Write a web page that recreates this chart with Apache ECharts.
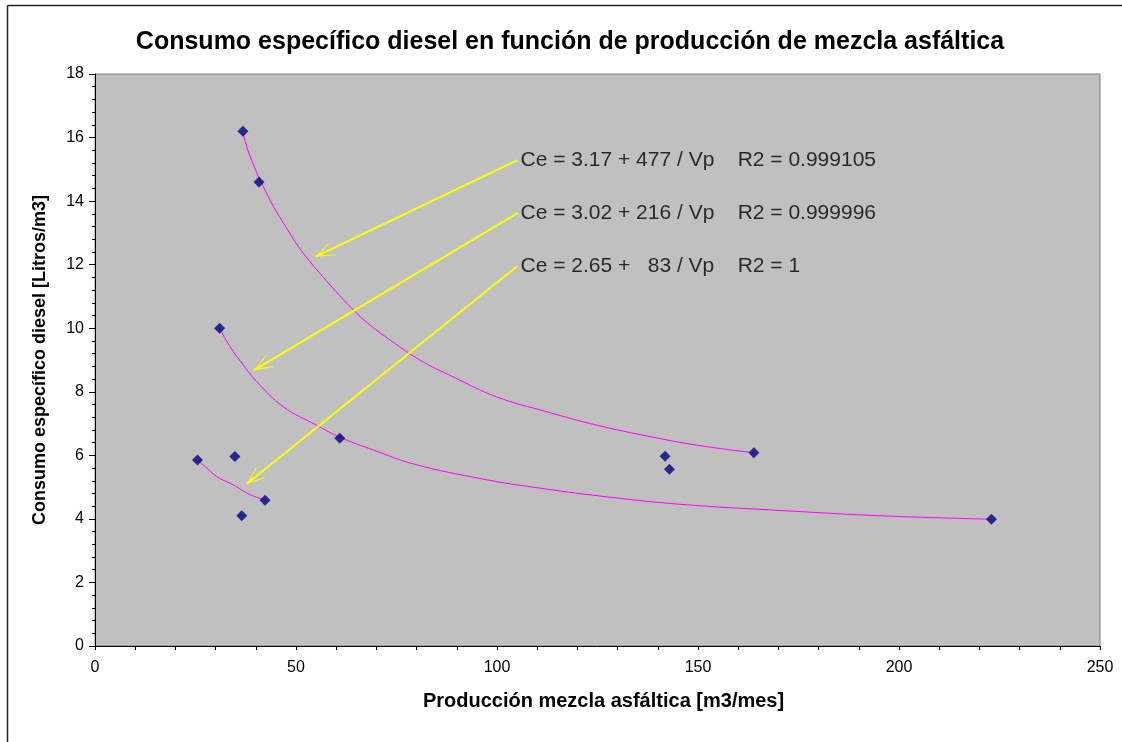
<!DOCTYPE html>
<html>
<head>
<meta charset="utf-8">
<script src="https://cdn.jsdelivr.net/npm/echarts@6/dist/echarts.min.js"></script>
<style>
html,body{margin:0;padding:0;background:#fff;}
#c{width:1122px;height:742px;}
</style>
</head>
<body>
<div id="c"></div>
<script>
// ---- Data ----
const titleText = 'Consumo específico diesel en función de producción de mezcla asfáltica';
const xTitle = 'Producción mezcla asfáltica [m3/mes]';
const yTitle = 'Consumo específico diesel [Litros/m3]';

// measured points (Vp, Ce)
const pointsX = [36.8, 40.8, 31.0, 60.9, 25.5, 34.8, 42.3, 36.5, 163.9, 141.8, 142.9, 223.0];
const pointsY = [16.2, 14.6, 10.0, 6.54, 5.85, 5.96, 4.59, 4.10, 6.08, 5.97, 5.56, 3.99];

// fitted curves
const curve1X = [36.8, 38.6, 43.1, 47.7, 51.8, 58.5, 64.3, 68.4, 73.4, 80.8, 89.1, 99.9, 112.4, 124.8, 138.1, 149.7, 163.9];
const curve1Y = [16.15, 15.4, 14.14, 13.14, 12.36, 11.36, 10.57, 10.1, 9.63, 9.0, 8.47, 7.84, 7.37, 6.95, 6.59, 6.32, 6.08];
const curve2X = [31.0, 33.6, 36.9, 40.2, 46.8, 55.1, 60.9, 69.2, 79.2, 96.6, 110.0, 125.6, 145.5, 171.2, 196.9, 223.0];
const curve2Y = [10.0, 9.42, 8.84, 8.32, 7.53, 6.95, 6.57, 6.17, 5.73, 5.25, 4.98, 4.72, 4.46, 4.26, 4.09, 3.99];
const curve3X = [25.5, 26.9, 30.3, 34.4, 37.7, 40.2, 42.3];
const curve3Y = [5.85, 5.70, 5.33, 5.07, 4.82, 4.68, 4.61];

// equation annotations: text anchor (arrow start) and arrow tip
const eqTexts = [
  'Ce = 3.17 + 477 / Vp    R2 = 0.999105',
  'Ce = 3.02 + 216 / Vp    R2 = 0.999996',
  'Ce = 2.65 +   83 / Vp    R2 = 1'
];
const eqStartX = [105.1, 105.1, 105.1];
const eqStartY = [15.29, 13.62, 11.96];
const eqTipX = [54.9, 39.6, 37.7];
const eqTipY = [12.25, 8.68, 5.10];

// ---- Build options ----
const zip = (a, b) => a.map((v, i) => [v, b[i]]);
const FONT = "'Liberation Sans', Arial, sans-serif";
// open chevron; an invisible point before the tip puts the tip at the symbol centre
const chevron = 'path://M5,-14L5.001,-14L5,-13.999Z M5,0L10,14L9.3,14L5,2.2L0.7,14L0,14Z';

const curveStyle = {
  type: 'line', smooth: 0.4, showSymbol: false, symbol: 'none',
  lineStyle: { color: '#FF00FF', width: 1 }, silent: true, z: 2
};

const chart = echarts.init(document.getElementById('c'), null, { renderer: 'canvas' });
chart.setOption({
  animation: false,
  backgroundColor: '#ffffff',
  title: {
    text: titleText,
    left: 565, top: 25, textAlign: 'center',
    textStyle: { fontFamily: FONT, fontSize: 25, fontWeight: 'bold', color: '#000' }
  },
  grid: {
    left: 95, top: 74, right: 22, bottom: 96,
    show: true, backgroundColor: '#C0C0C0', borderColor: '#808080', borderWidth: 1
  },
  xAxis: {
    type: 'value', min: 0, max: 250, interval: 50,
    name: xTitle, nameLocation: 'middle', nameGap: 45,
    nameTextStyle: { fontFamily: FONT, fontSize: 20, fontWeight: 'bold', color: '#000', padding: [0, 0, 0, 12] },
    axisLine: { show: true, onZero: false, lineStyle: { color: '#000', width: 1 } },
    axisTick: { show: true, length: 4, lineStyle: { color: '#000' } },
    minorTick: { show: true, splitNumber: 5, length: 4, lineStyle: { color: '#000' } },
    axisLabel: { fontFamily: FONT, fontSize: 16, color: '#000', margin: 14 },
    splitLine: { show: false }, minorSplitLine: { show: false }
  },
  yAxis: {
    type: 'value', min: 0, max: 18, interval: 2,
    name: yTitle, nameLocation: 'middle', nameGap: 46, nameRotate: 90,
    nameTextStyle: { fontFamily: FONT, fontSize: 18, fontWeight: 'bold', color: '#000' },
    axisLine: { show: true, onZero: false, lineStyle: { color: '#000', width: 1 } },
    axisTick: { show: true, length: 6, lineStyle: { color: '#000' } },
    minorTick: { show: true, splitNumber: 5, length: 3, lineStyle: { color: '#000' } },
    axisLabel: { fontFamily: FONT, fontSize: 16, color: '#000', margin: 11 },
    splitLine: { show: false }, minorSplitLine: { show: false }
  },
  series: [
    Object.assign({ name: 'fit1', data: zip(curve1X, curve1Y) }, curveStyle),
    Object.assign({ name: 'fit2', data: zip(curve2X, curve2Y) }, curveStyle),
    Object.assign({ name: 'fit3', data: zip(curve3X, curve3Y) }, curveStyle),
    {
      name: 'datos', type: 'scatter', symbol: 'diamond', symbolSize: 11,
      itemStyle: { color: '#000080' }, data: zip(pointsX, pointsY), z: 4
    },
    {
      name: 'ecuaciones', type: 'scatter', symbolSize: 0, silent: true, z: 5,
      data: eqTexts.map((t, i) => ({ value: [eqStartX[i], eqStartY[i]], name: t })),
      label: {
        show: true, position: 'right', distance: 3,
        formatter: p => p.name,
        fontFamily: FONT, fontSize: 21, color: '#000'
      },
      markLine: {
        silent: true, animation: false,
        symbol: ['none', chevron], symbolSize: [14, 36],
        label: { show: false },
        lineStyle: { color: '#FFFF00', width: 2, type: 'solid' },
        emphasis: { disabled: true },
        data: eqTexts.map((t, i) => [
          { coord: [eqStartX[i], eqStartY[i]] },
          { coord: [eqTipX[i], eqTipY[i]] }
        ])
      }
    }
  ],
  graphic: [
    { type: 'line', silent: true, shape: { x1: 7.5, y1: 5.5, x2: 1122, y2: 5.5 }, style: { stroke: '#222', lineWidth: 1.5 } },
    { type: 'line', silent: true, shape: { x1: 7.5, y1: 5.5, x2: 7.5, y2: 742 }, style: { stroke: '#222', lineWidth: 1.5 } }
  ]
});
</script>
</body>
</html>
